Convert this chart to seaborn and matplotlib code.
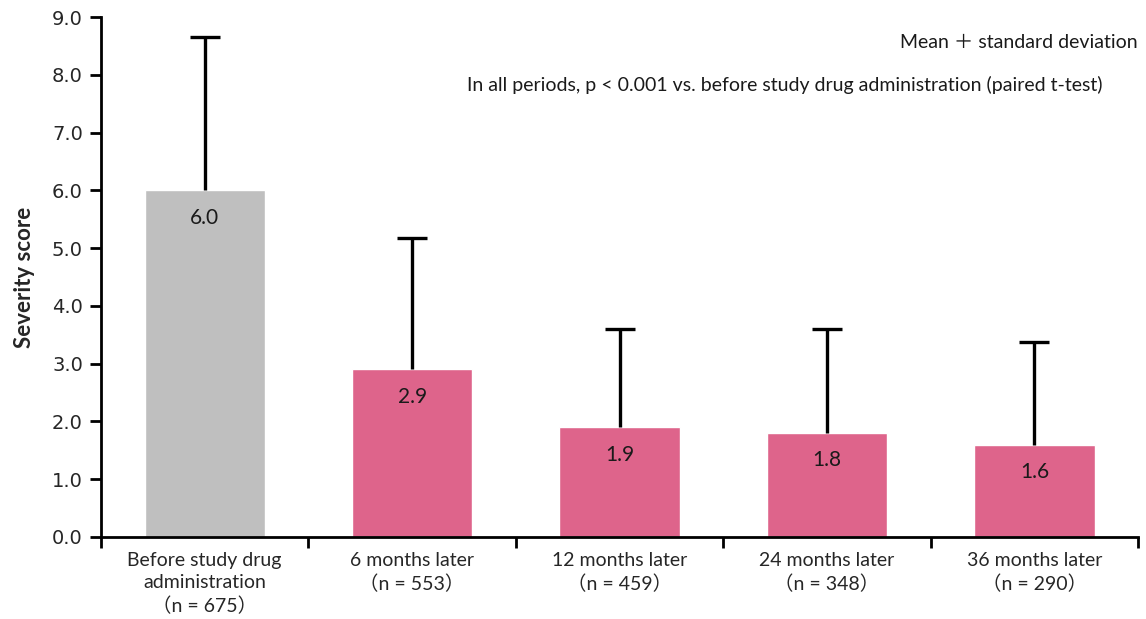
import matplotlib
matplotlib.use("Agg")
import matplotlib.pyplot as plt
import seaborn as sns
import numpy as np
import pandas as pd

# Severity score per assessment period
periods = ["Before study drug\nadministration\n（n = 675）",
           "6 months later\n（n = 553）",
           "12 months later\n（n = 459）",
           "24 months later\n（n = 348）",
           "36 months later\n（n = 290）"]
means = [6.0, 2.9, 1.9, 1.8, 1.6]
sds = [2.65, 2.28, 1.70, 1.80, 1.77]
bar_colors = ["#BFBFBF", "#DE648B", "#DE648B", "#DE648B", "#DE648B"]
y_ticks = [0.0, 1.0, 2.0, 3.0, 4.0, 5.0, 6.0, 7.0, 8.0, 9.0]

sns.set_theme(style="white")
plt.rcParams["font.family"] = ["Lato", "Noto Sans CJK JP", "DejaVu Sans"]

df = pd.DataFrame({"period": periods, "mean": means})

fig = plt.figure(figsize=(11.46, 6.19), dpi=100)
ax = fig.add_axes([0.0881, 0.1325, 0.905, 0.84])

sns.barplot(data=df, x="period", y="mean", hue="period", palette=bar_colors,
            legend=False, width=0.58, saturation=1, ax=ax, errorbar=None)

# upper-only error bars (mean + SD)
x = np.arange(len(means))
eb = ax.errorbar(x, means, yerr=[np.zeros(len(sds)), sds], fmt="none",
                 ecolor="black", elinewidth=2.4, capsize=11, capthick=2.4,
                 zorder=3)
caps = eb.lines[1]
if len(caps) > 1:
    caps[0].set_visible(False)

for xi, m in zip(x, means):
    ax.text(xi, m - 0.3, f"{m:.1f}", ha="center", va="top", fontsize=15,
            color="#1a1a1a")

ax.set_ylim(0, 9.0)
ax.set_xlim(-0.5, len(means) - 0.5)
ax.set_yticks(y_ticks)
ax.set_yticklabels([f"{v:.1f}" for v in y_ticks], fontsize=14,
                   family="DejaVu Sans")
ax.set_xticks(np.arange(-0.5, len(means), 1.0))
ax.set_xticklabels([])
ax.set_xticks(x, minor=True)
ax.set_xticklabels(periods, minor=True, fontsize=14, linespacing=1.35)
ax.tick_params(axis="x", which="major", direction="out", length=8, width=2,
               color="black", bottom=True)
ax.tick_params(axis="x", which="minor", length=0, pad=11, bottom=True)
ax.tick_params(axis="y", direction="out", length=8, width=2, color="black",
               left=True, pad=5)

ax.set_xlabel("")
ax.set_ylabel("Severity score", fontsize=16, fontweight="bold", labelpad=12)

for side in ["top", "right"]:
    ax.spines[side].set_visible(False)
for side in ["left", "bottom"]:
    ax.spines[side].set_color("black")
    ax.spines[side].set_linewidth(2)

fig.text(0.993, 0.932, "Mean ＋ standard deviation", ha="right", va="center",
         fontsize=14, color="#1a1a1a")
fig.text(0.962, 0.862,
         "In all periods, p < 0.001 vs. before study drug administration (paired t-test)",
         ha="right", va="center", fontsize=14, color="#1a1a1a")

fig.savefig("out.png", dpi=100)
